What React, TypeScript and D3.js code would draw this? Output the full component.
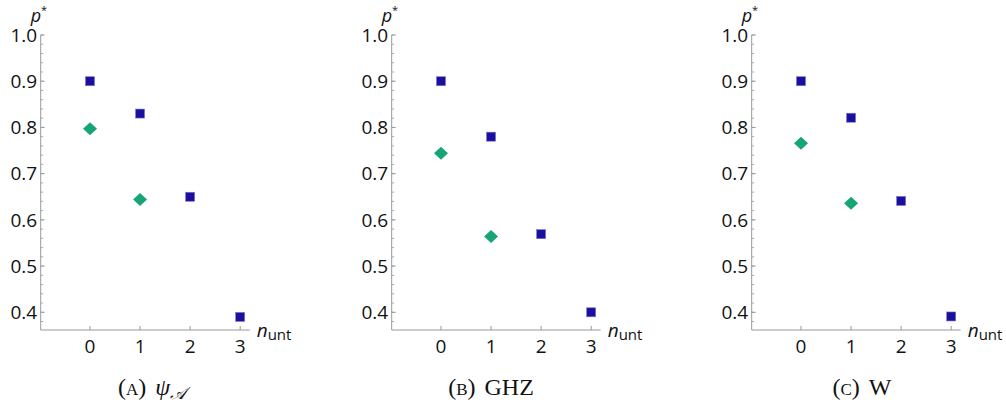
import React from "react";
import * as d3 from "d3";

const nValues = [0, 1, 2, 3];
const squaresA = [0.9, 0.83, 0.65, 0.39];
const diamondsA = [0.797, 0.644];
const squaresB = [0.9, 0.78, 0.569, 0.4];
const diamondsB = [0.744, 0.564];
const squaresC = [0.9, 0.821, 0.641, 0.391];
const diamondsC = [0.766, 0.636];
const yTicks = [0.4, 0.5, 0.6, 0.7, 0.8, 0.9, 1.0];
const xTicks = [0, 1, 2, 3];

const panels = [
  { key: "A", sc: "A", name: "ψ", sub: "𝒜", squares: squaresA, diamonds: diamondsA, ox: 40.7, cx: 152 },
  { key: "B", sc: "B", name: "GHZ", sub: "", squares: squaresB, diamonds: diamondsB, ox: 391.7, cx: 491 },
  { key: "C", sc: "C", name: "W", sub: "", squares: squaresC, diamonds: diamondsC, ox: 751.7, cx: 862 },
];

const SQ = "#1a0f9e";
const SQE = "#7a74c8";
const DM = "#17a673";
const AX = "#999999";
const TXT = "#111111";
const SANS = "'Open Sans', 'Noto Sans', sans-serif";
const SERIF = "'Liberation Serif', 'DejaVu Serif', serif";

function Panel({ p }: { p: typeof panels[number] }) {
  const x = d3.scaleLinear().domain([-0.985, 3.19]).range([p.ox, p.ox + 209]);
  const y = d3.scaleLinear().domain([0.3617, 1.0]).range([330, 35]);
  const minor = d3.range(0.38, 1.0001, 0.02).map((v) => +v.toFixed(2));
  const diamond = (cx: number, cy: number) =>
    `M${cx},${cy - 6.5}L${cx + 7},${cy}L${cx},${cy + 6.5}L${cx - 7},${cy}Z`;
  return (
    <g>
      {/* y axis */}
      <line x1={p.ox} x2={p.ox} y1={y(1.0)} y2={y(0.3617)} stroke={AX} strokeWidth={1} />
      {minor.map((v) => (
        <line key={"m" + v} x1={p.ox} x2={p.ox + 2.5} y1={y(v)} y2={y(v)} stroke={AX} strokeWidth={0.8} />
      ))}
      {yTicks.map((v) => (
        <g key={"y" + v}>
          <line x1={p.ox} x2={p.ox + 4} y1={y(v)} y2={y(v)} stroke={AX} strokeWidth={1} />
          <text x={p.ox - 3.5} y={y(v) + 6.8} textAnchor="end" fontFamily={SANS} fontSize={19} fill={TXT}>
            {d3.format(".1f")(v)}
          </text>
        </g>
      ))}
      {/* x axis */}
      <line x1={x(-0.985)} x2={x(3.19)} y1={330} y2={330} stroke={AX} strokeWidth={1} />
      {xTicks.map((v) => (
        <g key={"x" + v}>
          <line x1={x(v)} x2={x(v)} y1={330} y2={326} stroke={AX} strokeWidth={1} />
          <text x={x(v)} y={353} textAnchor="middle" fontFamily={SANS} fontSize={19} fill={TXT}>
            {v}
          </text>
        </g>
      ))}
      {/* axis labels */}
      <text x={p.ox - 10} y={22} fontFamily={SANS} fontSize={18} fontStyle="italic" fill={TXT}>
        p
        <tspan dy={-8} fontSize={11} fontStyle="normal">*</tspan>
      </text>
      <text x={x(3.19) + 7} y={337} fontFamily={SANS} fontSize={19} fontStyle="italic" fill={TXT}>
        n
        <tspan dy={3} fontSize={15} fontStyle="normal">unt</tspan>
      </text>
      {/* data */}
      {p.diamonds.map((v, i) => (
        <path key={"d" + i} d={diamond(x(nValues[i]), y(v))} fill={DM} />
      ))}
      {p.squares.map((v, i) => (
        <rect key={"s" + i} x={x(nValues[i]) - 4.5} y={y(v) - 4.5} width={9} height={9} fill={SQ} stroke={SQE} strokeWidth={0.6} />
      ))}
      {/* caption */}
      <text x={p.cx} y={395} textAnchor="middle" fontFamily={SERIF} fontSize={24} fill={TXT}>
        (<tspan fontSize={17}>{p.sc}</tspan>)
        <tspan dx={9} fontStyle={p.sub ? "italic" : "normal"}>{p.name}</tspan>
        {p.sub ? (
          <tspan dy={4} fontSize={17} fontStyle="italic">{p.sub}</tspan>
        ) : null}
      </text>
    </g>
  );
}

export default function App() {
  return (
    <svg
      width={1006}
      height={408}
      viewBox="0 0 1006 408"
      style={{ position: "absolute", left: 0, top: 0, background: "#fff" }}
    >
      <rect width={1006} height={408} fill="#fff" />
      {panels.map((p) => (
        <Panel key={p.key} p={p} />
      ))}
    </svg>
  );
}
